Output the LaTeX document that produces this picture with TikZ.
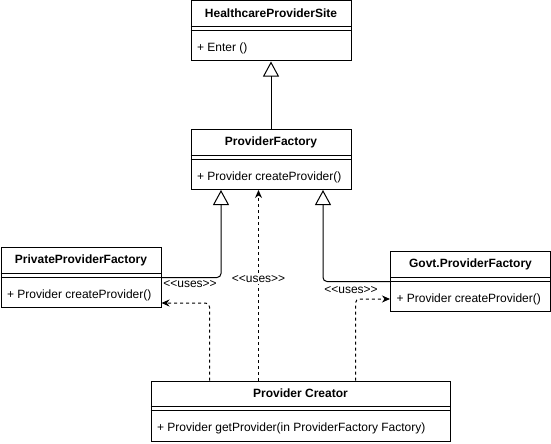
\documentclass[tikz,border=0pt]{standalone}
\usepackage{fontspec}
\setmainfont{Liberation Sans}
\usetikzlibrary{arrows.meta}

\tikzset{
    classbox/.style={draw, fill=white, minimum height=60pt, inner sep=0pt},
    inherit/.style={-{Triangle[open,length=15pt,width=16pt]}, rounded corners=4pt},
    uses/.style={-{Stealth[length=8pt,width=7pt]}, dash pattern=on 3pt off 3pt, rounded corners=4pt},
    useslabel/.style={fill=white, inner sep=1pt, font=\fontsize{12}{14}\selectfont}
}

% name, top left corner, width, title, operation
\newcommand{\umlclass}[5]{%
    \node[classbox, minimum width=#3, anchor=north west] (#1) at (#2) {};
    \node[font=\fontsize{12}{14}\selectfont\bfseries] (#1-title) at ([yshift=-13pt]#1.north) {#4};
    \draw ([yshift=-26pt]#1.north west) -- ([yshift=-26pt]#1.north east)
          ([yshift=-30pt]#1.north west) -- ([yshift=-30pt]#1.north east);
    \node[anchor=west, inner sep=0pt] (#1-op) at ([xshift=6pt,yshift=13pt]#1.south west) {#5};
}

\begin{document}
\begin{tikzpicture}[x=1pt, y=-1pt, line width=1pt, font=\fontsize{12}{14}\selectfont]
    \useasboundingbox (0,0) rectangle (551,444);

    \umlclass{site}{190.5,0.5}{160pt}{HealthcareProviderSite}{+ Enter ()}
    \umlclass{factory}{190.5,129}{160pt}{ProviderFactory}{+ Provider createProvider()}
    \umlclass{private}{0.5,247}{160pt}{PrivateProviderFactory}{+ Provider createProvider()}
    \umlclass{govt}{390,251}{160pt}{Govt.ProviderFactory}{+ Provider createProvider()}
    \umlclass{creator}{150.5,380.5}{299pt}{Provider Creator}{+ Provider getProvider(in ProviderFactory Factory)}

    \draw[inherit] (factory) -- (site);
    \draw[inherit] (private.east) -| ([xshift=-50pt]factory.south);
    \draw[inherit] (govt.west) -| ([xshift=52pt]factory.south);

    \draw[uses] ([xshift=-91pt]creator.north) |- ([yshift=5pt]private.south east);
    \draw[uses] ([xshift=-42pt]creator.north) -- ([xshift=-42pt]creator.north |- factory.south)
        node[useslabel, pos=0.53] (uses2) {<{}<uses>{}>};
    \draw[uses] ([xshift=55pt]creator.north) |- ([yshift=13pt]govt.south west);

    \node[useslabel] (uses1) at (190,284) {<{}<uses>{}>};
    \node[useslabel] (uses3) at (351,290) {<{}<uses>{}>};
\end{tikzpicture}
\end{document}
